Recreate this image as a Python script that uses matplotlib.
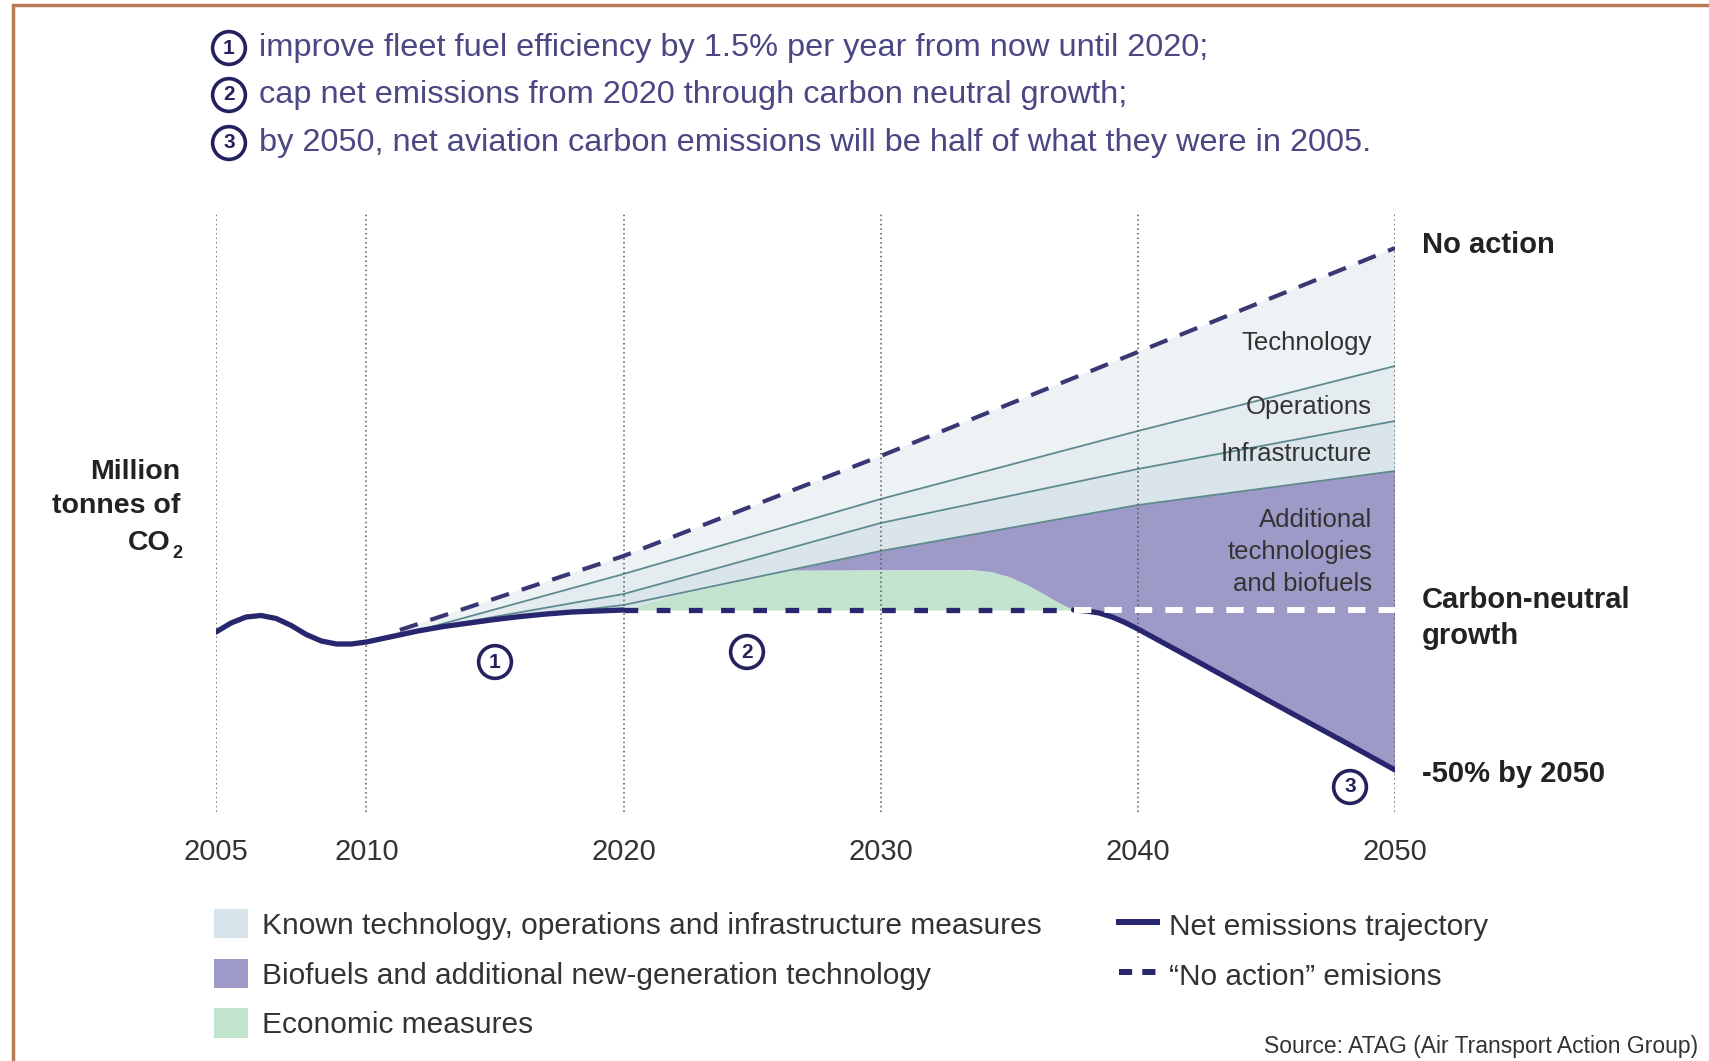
import matplotlib
matplotlib.use("Agg")
import matplotlib.pyplot as plt
import matplotlib.patches as mpatches
from matplotlib.lines import Line2D
import numpy as np

plt.rcParams['font.family'] = ['Liberation Sans', 'DejaVu Sans']

W, H = 1709, 1061

# ---- data (million tonnes CO2) ----
tick_years = [2005, 2010, 2020, 2030, 2040, 2050]
carbon_neutral = 700

years_net = [2005.0, 2005.5, 2006.0, 2006.5, 2007.0, 2007.5, 2008.0, 2008.5,
             2009.0, 2009.5, 2010.0, 2011.0, 2012.0, 2013.0, 2014.0, 2015.0,
             2016.0, 2017.0, 2018.0, 2019.0, 2020.0, 2037.5, 2038.0, 2038.5,
             2039.0, 2039.5, 2040.0, 2041.0, 2042.0, 2045.0, 2048.0, 2050.0]
net_mt = [656, 674, 686, 689, 683, 669, 651, 638,
          632, 632, 636, 647, 658, 667, 674, 681,
          687, 692, 696, 698, 700, 700, 698, 694,
          686, 675, 662, 634, 606, 521, 437, 380]

years_noaction = [2011.3, 2020, 2030, 2040, 2050]
noaction_mt = [660, 808, 1008, 1216, 1424]

years_tech = [2011.8, 2020, 2030, 2040, 2050]
tech_mt = [656, 772, 922, 1058, 1188]

years_ops = [2012.3, 2020, 2030, 2040, 2050]
ops_mt = [662, 732, 874, 982, 1078]

years_infra = [2013.0, 2020, 2030, 2040, 2050]
infra_mt = [667, 710, 818, 910, 978]

years_econ = [2020, 2022, 2024, 2026.5, 2033.5, 2034.3, 2035, 2035.7,
              2036.4, 2037, 2037.5]
econ_top_mt = [700, 730, 751, 779, 780, 776, 766, 750, 730, 712, 700]

header_lines = [
    "improve fleet fuel efficiency by 1.5% per year from now until 2020;",
    "cap net emissions from 2020 through carbon neutral growth;",
    "by 2050, net aviation carbon emissions will be half of what they were in 2005.",
]
legend_patch_labels = ["Known technology, operations and infrastructure measures",
                       "Biofuels and additional new-generation technology",
                       "Economic measures"]
legend_line_labels = ["Net emissions trajectory", "\u201cNo action\u201d emisions"]

# ---- colours ----
navy = "#28266f"
navy_dash = "#3a3874"
circle_col = "#24225e"
teal = "#5f8b8f"
band_tech = "#edf2f5"
band_ops = "#e4ecf0"
band_infra = "#dae5eb"
purple = "#9e9ac8"
green = "#c2e4cf"
legend_known = "#d6e3ea"
text_dark = "#222222"
text_grey = "#333333"
header_col = "#4a4783"


def px(x, y):
    return x / W, 1 - y / H


# stretched first 5 years on the time axis
def fwd(x):
    x = np.asarray(x, dtype=float)
    return np.where(x < 2010, 2010 + (x - 2010) * 1.17, x)


def inv(x):
    x = np.asarray(x, dtype=float)
    return np.where(x < 2010, 2010 + (x - 2010) / 1.17, x)


fig = plt.figure(figsize=(W / 100, H / 100), dpi=100)
l, t = px(216, 212)
r, b = px(1395, 812)
ax = fig.add_axes([l, b, r - l, t - b])
ax.set_xscale('function', functions=(fwd, inv))
ax.set_xlim(2005, 2050)
ax.set_ylim(296, 1496)

yn = np.array(years_net)
nm = np.array(net_mt)


def band(xu, yu, xl, yl, color):
    ax.fill(list(xu) + list(xl)[::-1], list(yu) + list(yl)[::-1],
            color=color, lw=0, zorder=1)


base_x = [x for x in years_net if 2011 <= x <= 2020] + [2050]
base_y = [v for x, v in zip(years_net, net_mt) if 2011 <= x <= 2020] + [carbon_neutral]
band(years_noaction, noaction_mt, base_x, base_y, band_tech)
band(years_tech, tech_mt, base_x[1:], base_y[1:], band_ops)
band(years_ops, ops_mt, base_x[1:], base_y[1:], band_infra)

# purple: between infrastructure line and economic / net trajectory,
# starting where the economic measures level off
x0 = years_econ[3]
ix = [x0] + [x for x in years_infra if x > x0]
iy = [econ_top_mt[3]] + [v for x, v in zip(years_infra, infra_mt) if x > x0]
low_x = [x for x in years_econ if x >= x0] + [x for x in years_net if x > 2037.5]
low_y = [v for x, v in zip(years_econ, econ_top_mt) if x >= x0] + \
        [v for x, v in zip(years_net, net_mt) if x > 2037.5]
band(ix, iy, low_x, low_y, purple)

ax.fill_between(years_econ, carbon_neutral, econ_top_mt, color=green, lw=0, zorder=1.5)

for xs, ys in [(years_tech, tech_mt), (years_ops, ops_mt), (years_infra, infra_mt)]:
    ax.plot(xs, ys, color=teal, lw=1.3, zorder=2)

for yr in tick_years:
    ax.axvline(yr, color="#555555", lw=1.1, ls=(0, (1, 2)), zorder=3)

ax.plot(years_noaction, noaction_mt, color=navy_dash, lw=3.0,
        dashes=(4.5, 3.2), zorder=4)

solid1 = yn <= 2020
solid2 = yn >= 2037.5
ax.plot(yn[solid1], nm[solid1], color=navy, lw=3.8, solid_capstyle='round', zorder=5)
ax.plot(yn[solid2], nm[solid2], color=navy, lw=3.8, solid_capstyle='round', zorder=5)
cap = (yn >= 2020) & (yn <= 2037.5)
ax.plot(yn[cap], nm[cap], color=navy, lw=3.8, dashes=(2.6, 3.5), zorder=5)
ax.plot([2037.5, 2050], [carbon_neutral, carbon_neutral], color="white",
        lw=4.3, dashes=(2.9, 2.2), zorder=5)

ax.set_xticks(tick_years)
ax.set_xticklabels([str(y) for y in tick_years])
ax.set_yticks([])
ax.tick_params(axis='x', length=0, pad=19, labelsize=21, labelcolor=text_grey)
for s in ax.spines.values():
    s.set_visible(False)

circle_box = dict(boxstyle='circle,pad=0.33', fc='white', ec=circle_col, lw=2.6)

# circled markers on the chart
for (yr, v), n in zip([(2015.0, 596), (2024.8, 616), (2048.25, 346)], [1, 2, 3]):
    ax.text(yr, v, str(n), ha='center', va='center', fontsize=15,
            fontweight='bold', color=circle_col, zorder=10, bbox=circle_box)

# header
for i, (line, yy) in enumerate(zip(header_lines, [48, 95, 143])):
    fig.text(*px(229, yy), str(i + 1), ha='center', va='center', fontsize=15,
             fontweight='bold', color=circle_col, bbox=circle_box)
    fig.text(*px(259, yy), line, ha='left', va='center', fontsize=23.4,
             color=header_col)

# y label
fig.text(*px(180, 489), "Million\ntonnes of", ha='right', va='center',
         fontsize=20.5, fontweight='bold', color=text_dark, linespacing=1.42)
fig.text(*px(171, 543), "CO", ha='right', va='center',
         fontsize=20.5, fontweight='bold', color=text_dark)
fig.text(*px(172, 553), "2", ha='left', va='center',
         fontsize=13, fontweight='bold', color=text_dark)

# right-hand labels
fig.text(*px(1422, 245), "No action", ha='left', va='center', fontsize=21,
         fontweight='bold', color=text_dark)
fig.text(*px(1422, 618), "Carbon-neutral\ngrowth", ha='left', va='center',
         fontsize=21, fontweight='bold', color=text_dark, linespacing=1.35)
fig.text(*px(1422, 774), "-50% by 2050", ha='left', va='center', fontsize=21,
         fontweight='bold', color=text_dark)

# labels inside the fan
for txt, yy in [("Technology", 343), ("Operations", 407), ("Infrastructure", 454)]:
    fig.text(*px(1372, yy), txt, ha='right', va='center', fontsize=18.5,
             color=text_grey, zorder=6)
fig.text(*px(1372, 552), "Additional\ntechnologies\nand biofuels", ha='right',
         va='center', fontsize=18.5, color=text_grey, linespacing=1.42, zorder=6)

# legends
patch_handles = [mpatches.Patch(facecolor=c, edgecolor='none')
                 for c in [legend_known, purple, green]]
fig.legend(patch_handles, legend_patch_labels, loc='upper left',
           bbox_to_anchor=px(214, 909), frameon=False, fontsize=21.5,
           handlelength=1.14, handleheight=1.14, handletextpad=0.46,
           labelspacing=0.63, borderpad=0, borderaxespad=0,
           labelcolor=text_grey)
line_handles = [Line2D([], [], color=navy, lw=4.3),
                Line2D([], [], color=navy, lw=4.3, dashes=(2.2, 1.7))]
fig.legend(line_handles, legend_line_labels, loc='upper left',
           bbox_to_anchor=px(1119, 910), frameon=False, fontsize=21.5,
           handlelength=1.27, handleheight=1.14, handletextpad=0.4,
           labelspacing=0.63, borderpad=0, borderaxespad=0,
           labelcolor=text_grey)

fig.text(*px(1698, 1046), "Source: ATAG (Air Transport Action Group)", ha='right',
         va='center', fontsize=16.5, color=text_grey)

# brown frame
fig.add_artist(mpatches.Rectangle(px(13, 1100), 1.2, (1100 - 5) / H,
                                  transform=fig.transFigure, fill=False,
                                  ec="#b87a55", lw=2.5))

fig.savefig("out.png", dpi=100)
